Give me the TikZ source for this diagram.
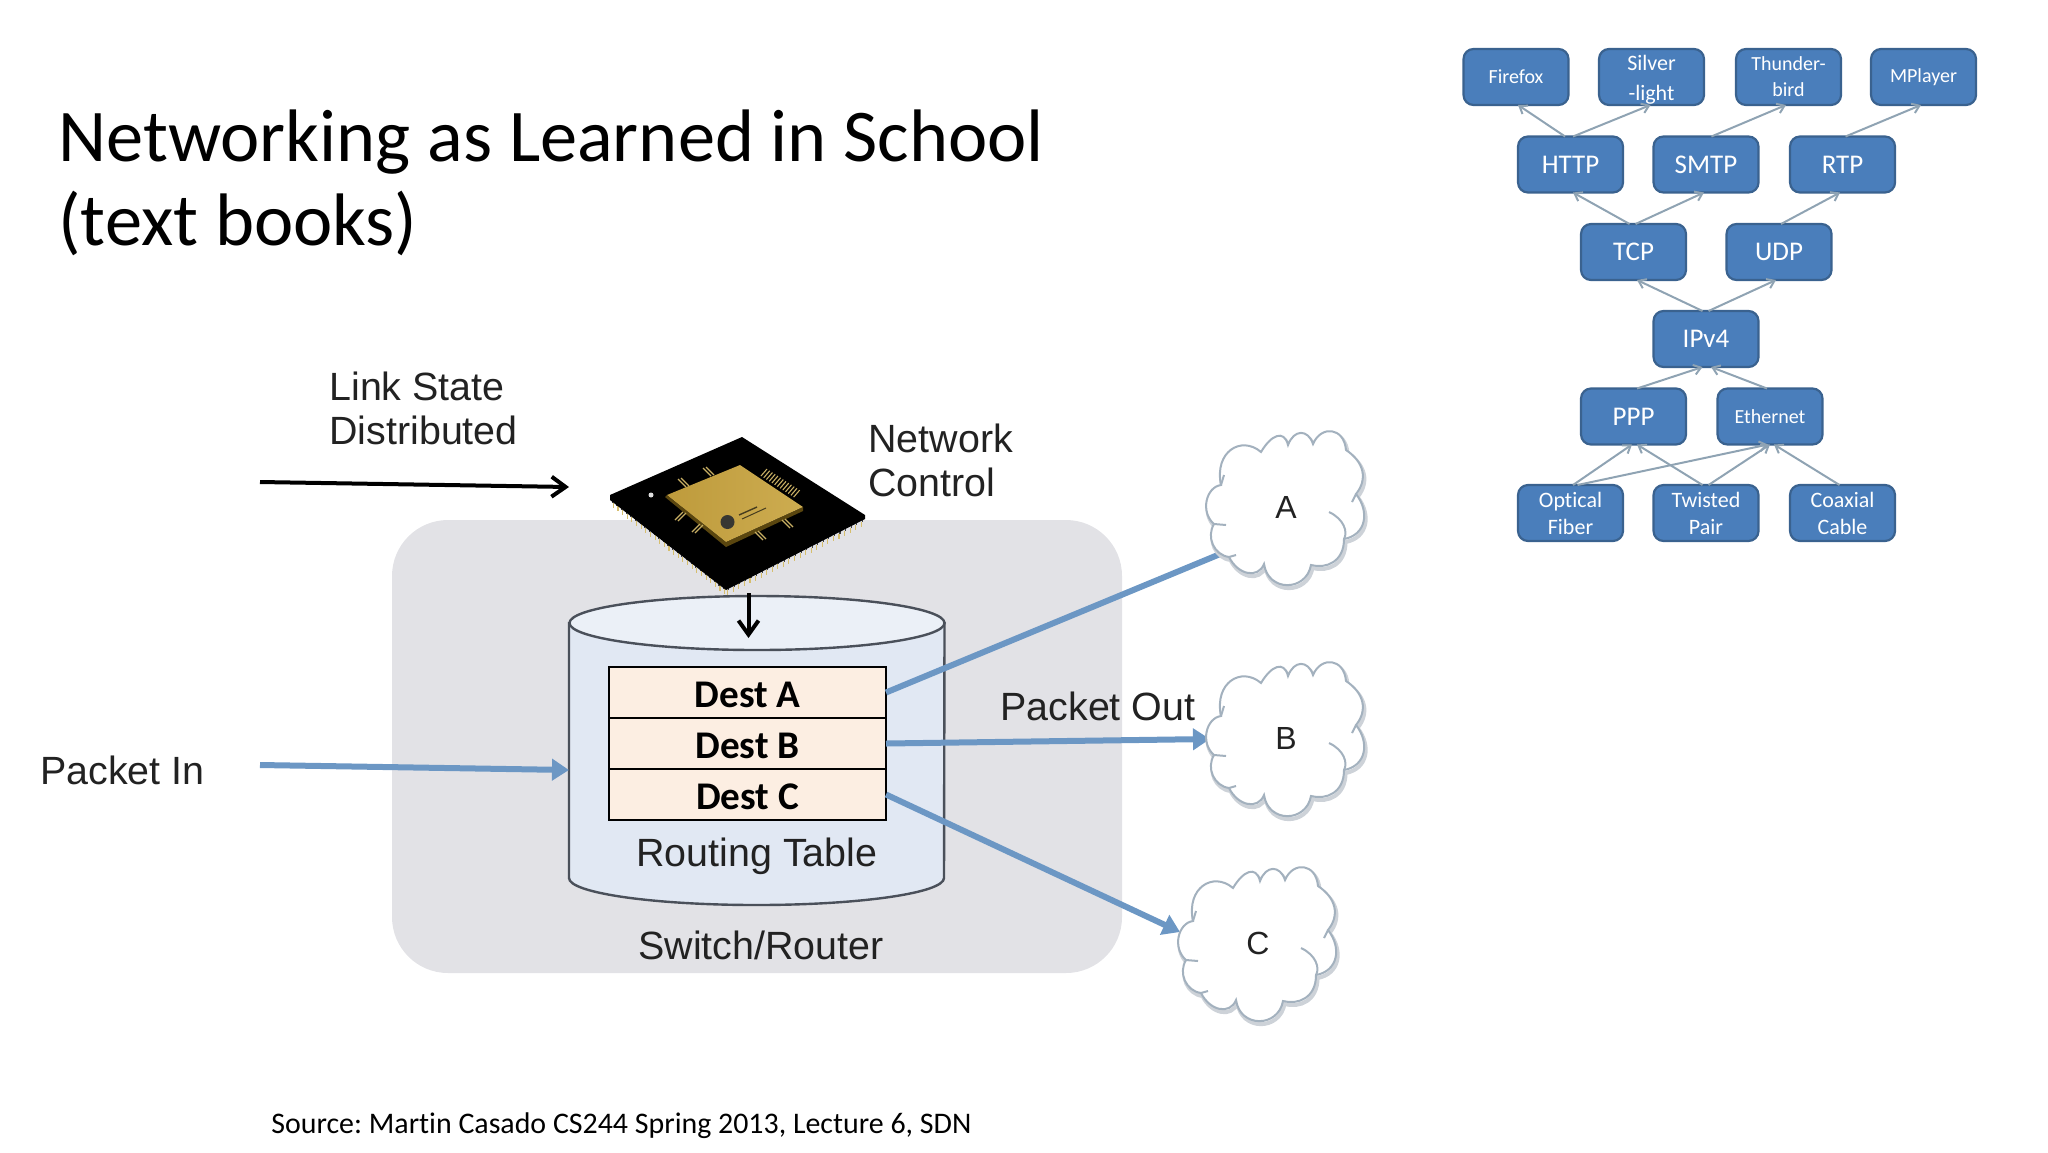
\documentclass[tikz,border=0pt]{standalone}
\usepackage{fontspec}
\setmainfont[Ligatures=NoCommon]{Carlito}
\newfontfamily\arialf{Liberation Sans}
\usetikzlibrary{arrows.meta,calc}
\definecolor{boxfill}{HTML}{4A7EBB}
\definecolor{boxedge}{HTML}{3A628F}
\definecolor{linkgray}{HTML}{8FA3B3}
\definecolor{switchgray}{HTML}{E2E2E6}
\definecolor{cylbody}{HTML}{E1E8F3}
\definecolor{cyltop}{HTML}{EBF0F7}
\definecolor{cyledge}{HTML}{4A505A}
\definecolor{rowfill}{HTML}{FCEEE2}
\definecolor{flowblue}{HTML}{6C97C4}
\definecolor{cloudedge}{HTML}{A3B1BE}
\definecolor{cloudshadow}{HTML}{CDD2D8}
\definecolor{txtgray}{HTML}{222222}
\definecolor{pinlight}{HTML}{D6BE6E}
\definecolor{pinsoft}{HTML}{C8AF64}
\definecolor{goldedge}{HTML}{5A460F}
\definecolor{goldleft}{HTML}{BE9B3C}
\definecolor{goldright}{HTML}{CDAC50}
\definecolor{logodark}{HTML}{373732}
\definecolor{logotext}{HTML}{463C1E}
\tikzset{
  netbox/.style={draw=boxedge,fill=boxfill,line width=1.1pt,rounded corners=5pt,
    minimum width=52.5pt,minimum height=28pt,inner sep=0pt,outer sep=0pt,
    text=white,align=center},
  big/.style={font=\fontsize{13.5}{15}\selectfont},
  small/.style={font=\fontsize{10}{10.5}\selectfont},
  netlink/.style={draw=linkgray,line width=1pt,-{Straight Barb[length=3.5pt,width=5pt]}},
  rowbox/.style={draw=black,fill=rowfill,line width=1pt,minimum width=138.5pt,
    inner sep=0pt,outer sep=0pt,font=\fontsize{19.6}{21}\bfseries\selectfont},
  sanslabel/.style={font=\arialf\fontsize{19.7}{22}\selectfont,text=txtgray,align=left,inner sep=0pt},
  blackflow/.style={draw=black,line width=2pt,-{Straight Barb[length=7pt,width=10pt]}},
  blueflow/.style={draw=flowblue,line width=3pt,-{Triangle[length=8.5pt,width=10.5pt]}},
  pinline/.style={draw=#1,line width=0.55pt}
}
\newcommand{\lnk}[6]{\draw[netlink] ($(#1.#2)+(#3,0)$) -- ($(#4.#5)+(#6,0)$);}
\newcommand{\rowtext}[1]{\raisebox{-7.5pt}[0pt][0pt]{#1}}
\newcommand{\cloudpath}{(-65,-22)
  .. controls (-72,-55) and (-45,-72) .. (-25,-55)
  .. controls (-15,-72) and (-2,-78) .. (2,-62)
  .. controls (8,-78) and (22,-78) .. (27,-63)
  .. controls (35,-82) and (58,-80) .. (60,-57)
  .. controls (78,-45) and (82,-28) .. (70,-13)
  .. controls (84,5) and (80,28) .. (58,32)
  .. controls (58,55) and (40,62) .. (25,58)
  .. controls (20,85) and (-18,85) .. (-22,57)
  .. controls (-28,72) and (-48,68) .. (-57,50)
  .. controls (-72,48) and (-80,30) .. (-72,17)
  .. controls (-86,5) and (-80,-20) .. (-65,-22) -- cycle}
\newcommand{\cloudat}[4]{%
  \begin{scope}[shift={(#1,#2)}]
    \begin{scope}[shift={(1.5,3)}]
      \draw[cloudshadow,line width=2pt] \cloudpath;
    \end{scope}
    \draw[cloudedge,fill=white,line width=1pt] \cloudpath;
    \draw[cloudedge,line width=1pt] (43,5) .. controls (58,12) and (62,25) .. (58,32);
    \draw[cloudedge,line width=1pt] (-72,17) -- (-60,18);
    \draw[cloudedge,line width=1pt] (-57,50) -- (-50,48);
    \draw[cloudedge,line width=1pt] (-65,-22) -- (-62,-32);
    \draw[cloudedge,line width=1pt] (70,-13) -- (66,-5);
    \node[sanslabel,font=\arialf\fontsize{16}{18}\selectfont] (#3) at (0,0) {#4};
  \end{scope}}
\begin{document}
\begin{tikzpicture}[x=0.5pt,y=-0.5pt]
\useasboundingbox (0,0) rectangle (2048,1152);
% title and source
\node[anchor=west,inner sep=0pt,align=left,font=\fontsize{37.2}{42}\selectfont] (title) at (58,182.5)
  {Networking as Learned in School\\(text books)};
\node[anchor=west,inner sep=0pt,font=\fontsize{14.95}{18}\selectfont] (source) at (271,1126)
  {\frenchspacing Source: Martin Casado CS244 Spring 2013, Lecture 6, SDN};
% switch background
\node[fill=switchgray,rounded corners=28pt,minimum width=365pt,minimum height=226.5pt,inner sep=0pt] (switch) at (757,746.5) {};
% cylinder
\path[fill=cylbody,draw=cyledge,line width=1.2pt] (569,623) -- (569,878) arc[start angle=180,end angle=0,x radius=187.5,y radius=27] -- (944.5,623) -- cycle;
\path[fill=cyltop,draw=cyledge,line width=1.2pt] (757,623) ellipse[x radius=187.5,y radius=27];
% table rows
\node[rowbox,minimum height=25.5pt] (desta) at (747.5,692.5) {\rowtext{Dest A}};
\node[rowbox,minimum height=25.5pt] (destb) at (747.5,743.5) {\rowtext{Dest B}};
\node[rowbox,minimum height=25.5pt] (destc) at (747.5,794.5) {\rowtext{Dest C}};
% chip
\coordinate (chipT) at (742,437);
\coordinate (chipL) at (610,495);
\coordinate (chipB) at (726,585);
\coordinate (chipR) at (865,515);
\foreach \t in {0.02,0.06,...,0.99}{
  \draw[pinline=black!75] ($(chipL)!\t!(chipB)+(0,2)$) -- ($(chipL)!\t!(chipB)+(0,6)$);
  \draw[pinline=pinlight] ($(chipL)!\t!(chipB)+(1,6)$) -- ($(chipL)!\t!(chipB)+(1,11)$);
  \draw[pinline=black!75] ($(chipB)!\t!(chipR)+(0,2)$) -- ($(chipB)!\t!(chipR)+(0,6)$);
  \draw[pinline=pinlight] ($(chipB)!\t!(chipR)+(-1,6)$) -- ($(chipB)!\t!(chipR)+(-1,11)$);
}
\fill[black] (chipT) -- (chipL) -- ($(chipL)+(0,5)$) -- ($(chipB)+(0,5)$) -- ($(chipR)+(0,4)$) -- (chipR) -- cycle;
\fill[white!75!gray] (651,495) circle[radius=2.5];
\fill[goldedge] (665,497) -- (726,547) -- (803,511) -- (803,507) -- (726,542) -- (667,495) -- cycle;
\fill[left color=goldleft,right color=goldright] (740,465) -- (667,495) -- (726,542) -- (803,507) -- cycle;
\fill[logodark] (727.5,522) circle[radius=7];
\draw[logotext,line width=0.7pt] (739,515) -- (757,507);
\draw[logotext,line width=0.5pt] (742,519) -- (766,508);
\foreach \x/\y in {707/472,682/483,759/536,786/524}{
  \draw[pinline=pinsoft] (\x-4,\y-4) -- (\x+4,\y+4);
  \draw[pinline=pinsoft] (\x-1,\y-5) -- (\x+7,\y+3);
}
\foreach \x/\y in {679/516,696/528}{
  \draw[pinline=pinsoft] (\x-4,\y+4) -- (\x+4,\y-4);
  \draw[pinline=pinsoft] (\x-1,\y+5) -- (\x+7,\y-3);
}
\foreach \t in {0,0.08,...,1}{
  \draw[pinline=pinsoft] ($(763,473)!\t!(797,495)+(-2,3)$) -- ($(763,473)!\t!(797,495)+(4,-4)$);
}
% flow end points
\coordinate (linkstart) at (260,482);
\coordinate (linkend) at (569,487);
\coordinate (chipout) at (748.5,593);
\coordinate (tablein) at (748.5,638);
\coordinate (pktstart) at (260,765);
\coordinate (pktend) at (569,770);
\coordinate (toa) at (1225,552);
\coordinate (tob) at (1210,739);
\coordinate (toc) at (1180,932);
% flows
\draw[blackflow] (linkstart) -- (linkend);
\draw[blackflow] (chipout) -- (tablein);
\draw[blueflow] (pktstart) -- (pktend);
\draw[flowblue,line width=3pt] (desta.east) -- (toa);
\draw[blueflow] (destb.east) -- (tob);
\draw[blueflow] (destc.east) -- (toc);
% clouds
\cloudat{1286}{507}{clouda}{A}
\cloudat{1286}{738}{cloudb}{B}
\cloudat{1258}{943}{cloudc}{C}
% labels
\node[sanslabel,anchor=west] (linklabel) at (329,408.5) {Link State\\Distributed};
\node[sanslabel,anchor=west] (controllabel) at (868,460) {Network\\Control};
\node[sanslabel,anchor=west] (pktin) at (40,770) {Packet In};
\node[sanslabel,anchor=west] (pktout) at (1000,706) {Packet Out};
\node[sanslabel] (rtlabel) at (757,856) {Routing Table};
\node[sanslabel] (swlabel) at (761,945) {Switch/Router};
% protocol stack
\node[netbox,small] (firefox) at (1516,77) {\raisebox{-0.5pt}{Firefox}};
\node[netbox,font=\fontsize{11}{15}\selectfont] (silver) at (1651.5,77) {\rule{0pt}{10pt}Silver\\-light};
\node[netbox,font=\fontsize{10}{13}\selectfont] (thunder) at (1788.5,77) {Thunder-\\bird};
\node[netbox,small] (mplayer) at (1923.5,77) {\raisebox{-0.5pt}{MPlayer}};
\node[netbox,big] (http) at (1570.5,164.5) {HTTP};
\node[netbox,big] (smtp) at (1706,164.5) {SMTP};
\node[netbox,big] (rtp) at (1842.5,164.5) {RTP};
\node[netbox,big] (tcp) at (1633.5,252) {TCP};
\node[netbox,big] (udp) at (1779,252) {UDP};
\node[netbox,big] (ipv4) at (1706,339) {IPv4};
\node[netbox,big] (ppp) at (1633.5,416.5) {PPP};
\node[netbox,small] (ethernet) at (1770,416.5) {Ethernet};
\node[netbox,font=\fontsize{11}{13.5}\selectfont] (optical) at (1570.5,513) {Optical\\Fiber};
\node[netbox,font=\fontsize{11}{13.5}\selectfont] (twisted) at (1706,513) {Twisted\\Pair};
\node[netbox,font=\fontsize{11}{13.5}\selectfont] (coaxial) at (1842.5,513) {Coaxial\\Cable};
\lnk{http}{north}{-5.4}{firefox}{south}{2}
\lnk{http}{north}{2.5}{silver}{south}{-1}
\lnk{smtp}{north}{5.4}{thunder}{south}{-2.5}
\lnk{rtp}{north}{3}{mplayer}{south}{-2.5}
\lnk{tcp}{north}{-4}{http}{south}{2.5}
\lnk{tcp}{north}{2}{smtp}{south}{-2}
\lnk{udp}{north}{2}{rtp}{south}{-2.5}
\lnk{ipv4}{north}{-3.5}{tcp}{south}{3.5}
\lnk{ipv4}{north}{2.5}{udp}{south}{-3}
\lnk{ppp}{north}{3.5}{ipv4}{south}{-3.5}
\lnk{ethernet}{north}{-3}{ipv4}{south}{5}
\lnk{optical}{north}{2.5}{ppp}{south}{-1.5}
\lnk{optical}{north}{7}{ethernet}{south}{-2}
\lnk{twisted}{north}{-3.5}{ppp}{south}{3.5}
\lnk{twisted}{north}{2.5}{ethernet}{south}{0}
\lnk{coaxial}{north}{-3}{ethernet}{south}{4}
\end{tikzpicture}
\end{document}
